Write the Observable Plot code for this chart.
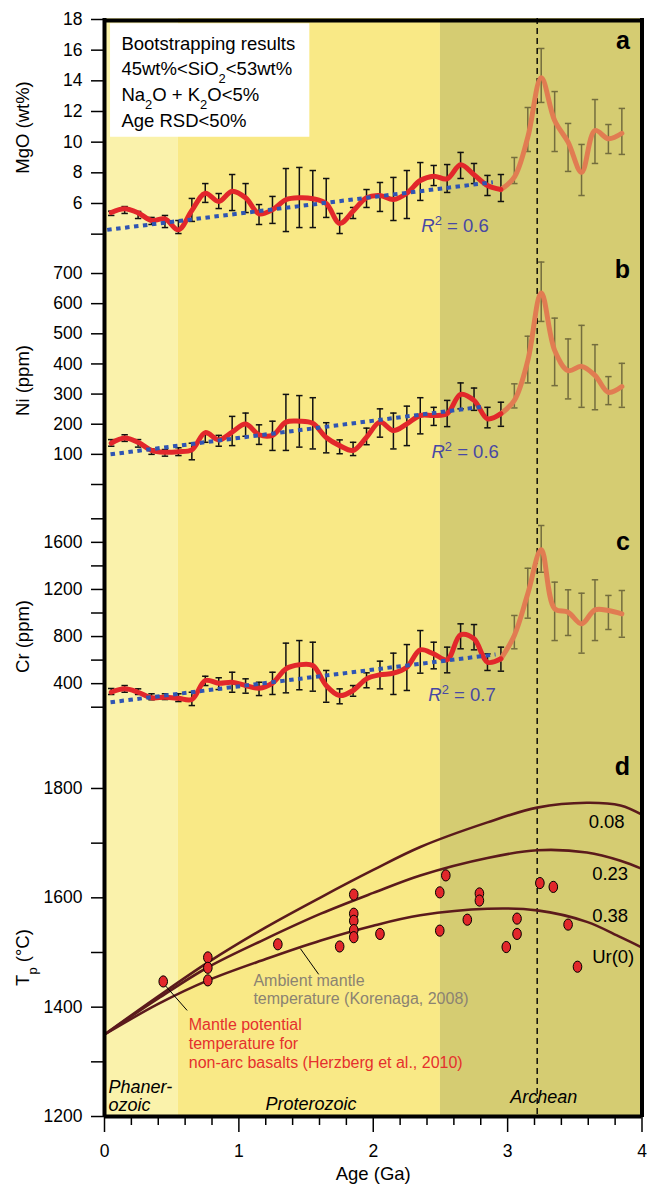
<!DOCTYPE html>
<html>
<head>
<meta charset="utf-8">
<script src="https://cdn.jsdelivr.net/npm/d3@7"></script>
<script src="https://cdn.jsdelivr.net/npm/@observablehq/plot@0.6"></script>
<style>
  html, body { margin: 0; padding: 0; background: #fff; }
  #chart { width: 647px; }
  #chart svg { display: block; }
</style>
</head>
<body>
<div id="chart"></div>
<script>
// ================= DATA =================
// Bootstrapped age bins (Ga)
const ages = [0.05,0.15,0.25,0.35,0.45,0.55,0.65,0.75,0.85,0.95,1.05,1.15,1.25,1.35,1.45,1.55,1.65,1.75,1.85,1.95,
              2.05,2.15,2.25,2.35,2.45,2.55,2.65,2.75,2.85,2.95,3.05,3.15,3.25,3.35,3.45,3.55,3.65,3.75,3.85];

// (a) MgO wt%
const mgoMean = [5.41,5.65,5.39,4.89,5.00,4.28,5.54,6.67,6.13,6.80,6.37,5.33,5.59,6.24,6.37,6.31,6.00,4.70,5.50,6.37,
                 6.52,6.26,6.67,7.50,7.78,7.61,8.52,7.87,7.17,6.91,7.72,10.32,14.20,11.41,10.00,8.04,10.76,10.22,10.58];
const mgoLow  = [5.22,5.35,5.02,4.63,4.43,4.04,4.83,6.07,5.67,5.54,5.41,4.63,4.70,4.17,4.43,4.43,5.09,4.04,5.02,5.74,
                 5.48,4.89,5.02,6.20,7.17,6.72,7.63,7.30,6.52,6.13,7.30,9.39,12.59,9.39,8.09,6.52,8.61,9.26,9.20];
const mgoHigh = [5.50,5.80,5.48,5.09,5.22,4.89,6.33,7.30,6.65,7.89,7.30,5.93,6.46,8.28,8.35,8.15,7.63,5.35,5.74,6.91,
                 7.37,7.70,8.15,8.67,8.48,8.54,9.33,8.61,7.83,7.89,9.00,12.26,16.11,13.30,11.22,9.85,12.78,11.15,12.20];

// (b) Ni ppm
const niMean = [137,154,140,113,107,109,115,172,148,174,201,165,163,207,210,203,156,129,113,157,
                207,179,201,229,229,235,299,279,218,235,279,411,635,445,378,392,362,306,325];
const niLow  = [127,143,124,100,94,96,82,140,127,129,160,133,113,113,124,118,105,102,96,132,
                157,118,129,168,196,192,251,246,188,193,254,337,541,328,284,256,248,265,256];
const niHigh = [149,165,149,118,116,122,137,166,163,226,237,198,210,299,295,288,205,148,140,187,
                251,237,260,288,256,279,337,320,256,273,334,492,738,552,483,528,464,358,402];

// (c) Cr ppm
const crMean = [327,356,327,280,285,276,265,427,404,412,384,361,404,526,560,554,384,299,342,441,
                475,489,540,687,653,603,815,781,582,611,809,1163,1537,1036,1007,908,1027,1021,993];
const crLow  = [308,327,308,263,265,248,214,384,350,327,319,299,308,322,348,336,242,229,293,365,
                356,308,342,489,526,492,696,687,512,506,696,956,1346,766,809,659,766,860,794];
const crHigh = [359,384,356,314,314,314,327,463,450,497,441,412,497,744,766,752,512,356,384,492,
                591,659,732,851,752,710,908,902,653,710,979,1380,1743,1262,1197,1168,1282,1149,1191];

// linear regressions (end points) and R²
const mgoFitAge = [0.02, 2.89], mgoFitValue = [4.28, 7.39];
const niFitAge  = [0.045, 2.83], niFitValue  = [100, 259];
const crFitAge  = [0.045, 2.91], crFitValue  = [242, 648];
const r2Values  = ["0.6", "0.6", "0.7"];

// (d) mantle potential temperature of non-arc basalts (Herzberg et al., 2010)
const tpAge   = [0.437,0.769,0.769,0.769,1.29,1.75,1.855,1.855,1.855,1.855,1.855,2.05,2.495,2.54,2.495,2.70,2.79,2.79,2.99,3.07,3.07,3.24,3.34,3.45,3.52];
const tpValue = [1447,1491,1472,1449,1515,1511,1606,1571,1558,1541,1528,1534,1610,1641,1540,1560,1608,1595,1510,1562,1534,1627,1620,1551,1474];

// ambient mantle temperature (Korenaga, 2008) for three Urey ratios
const urAge  = [0,0.4,0.77,1.2,1.61,2.0,2.35,2.85,3.22,3.59,3.84,4.0];
const ur008  = [1350,1420,1482,1546,1601,1651,1693,1738,1765,1774,1769,1752];
const ur023  = [1350,1416,1473,1525,1571,1609,1641,1673,1687,1683,1668,1653];
const ur038  = [1350,1406,1449,1488,1522,1549,1568,1580,1577,1556,1528,1509];
const urLabels = ["0.08", "0.23", "0.38", "Ur(0)"];

// eons
const eraStart = [0, 0.55, 2.5];
const eraEnd   = [0.55, 2.5, 4];
const eraNames = ["Phaner-\nozoic", "Proterozoic", "Archean"];
const redEndAge = 2.95;   // end of red (well constrained) part of curves
const dashAge   = 3.22;

// tick values
const xMajorTicks = [0, 1, 2, 3, 4];
const xMinorTicks = [0.2,0.4,0.6,0.8,1.2,1.4,1.6,1.8,2.2,2.4,2.6,2.8,3.2,3.4,3.6,3.8];
const mgoTicks = [6,8,10,12,14,16,18], mgoMinor = [4];
const niTicks  = [100,200,300,400,500,600,700], niMinor = [0];
const crTicks  = [400,800,1200,1600], crMinor = [200,600,1000,1400,1800];
const tpTicks  = [1200,1400,1600,1800], tpMinor = [1300,1500,1700];

const boxLines = "Bootstrapping results\n45wt%<SiO_{2}<53wt%\nNa_{2}O + K_{2}O<5%\nAge RSD<50%";

// ================= ANNOTATION ANCHORS (data units) =================
const boxRect   = [{x1: 0.045, x2: 1.528, y1: 10.32, y2: 17.72}];
const boxAnchor = [{x: 0.126, y: 14.05}];
const r2Anchor  = [{x: 2.358, y: 4.50}, {x: 2.433, y: 106}, {x: 2.41, y: 299}];
const urLabelAnchor = [{x: 3.603, y: 1738}, {x: 3.629, y: 1643}, {x: 3.629, y: 1566}, {x: 3.629, y: 1492}];
const eraLabelAnchor = [{x: 0.03, y: 1237}, {x: 1.198, y: 1222}, {x: 3.02, y: 1235}];
const ambientAnchor = [{x: 1.108, y: 1433}];
const herzAnchor    = [{x: 0.627, y: 1335}];
const leaders = [{x1: 1.458, y1: 1507, x2: 1.594, y2: 1460}, {x1: 0.44, y1: 1443, x2: 0.615, y2: 1394}];

// ================= STYLE / LAYOUT =================
const FONT = '"Liberation Sans", Arial, Helvetica, sans-serif';
const W = 647, ML = 104, MR = 5.5;
const C = {
  eras: ["#faf2ab", "#f9e986", "#d5cc72"],
  red: "#e2272b", orange: "#e17c52", bar: "#111111", barOld: "#746d3e",
  fit: "#2f55b3", r2: "#4848a4", curve: "#5b1a1c", grey: "#8b8372", note: "#e5302d"
};

const capSymbol = {draw(ctx) { ctx.moveTo(-3.2, 0); ctx.lineTo(3.2, 0); }};
const ellipseSymbol = {draw(ctx) {
  const rx = 4.3, ry = 5.6, k = 0.5523;
  ctx.moveTo(rx, 0);
  ctx.bezierCurveTo(rx, k * ry, k * rx, ry, 0, ry);
  ctx.bezierCurveTo(-k * rx, ry, -rx, k * ry, -rx, 0);
  ctx.bezierCurveTo(-rx, -k * ry, -k * rx, -ry, 0, -ry);
  ctx.bezierCurveTo(k * rx, -ry, rx, -k * ry, rx, 0);
  ctx.closePath();
}};

const eras = eraStart.map((s, i) => ({start: s, end: eraEnd[i], name: eraNames[i]}));

function rowsOf(mean, lo, hi) {
  return ages.map((a, i) => ({age: a, mean: mean[i], lo: lo[i], hi: hi[i]}));
}
function fitRows(a, v) { return a.map((x, i) => ({age: x, v: v[i]})); }

function background(domain, dashOffset) {
  return [
    Plot.rect(eras, {x1: "start", x2: "end", y1: () => domain[0], y2: () => domain[1], fill: (d, i) => C.eras[i]}),
    Plot.ruleX([dashAge], {stroke: "#000", strokeWidth: 1.4, strokeDasharray: "6,4", strokeDashoffset: dashOffset,
                           strokeLinecap: "butt"})
  ];
}

function frame() {
  return [Plot.ruleX([0, 4], {stroke: "#000", strokeWidth: 4})];
}

function yAxis(ticks, minor) {
  return [
    Plot.axisY({ticks, anchor: "left", tickSize: 13, tickPadding: 9, fontSize: 17.5, strokeWidth: 1.5,
                label: null, tickFormat: d => String(d)}),
    Plot.axisY({ticks: minor, anchor: "left", tickSize: 13, strokeWidth: 1.5, label: null, tickFormat: () => ""})
  ];
}

function yTitle(text, dy) {
  return Plot.text([text], {frameAnchor: "left", rotate: -90, dx: -81.5, dy, textAnchor: "middle",
                            lineAnchor: "middle", fontSize: 18.5});
}

function panelLetter(letter, dy) {
  return Plot.text([letter], {frameAnchor: "top-right", dx: -12, dy, textAnchor: "end", lineAnchor: "middle",
                              fontSize: 25, fontWeight: "bold"});
}

function seriesMarks(rows, fit, r2Idx) {
  const young = rows.filter(d => d.age <= redEndAge + 1e-9);
  const old = rows.filter(d => d.age >= redEndAge - 1e-9);
  const barColor = d => (d.age <= redEndAge + 1e-9 ? C.bar : C.barOld);
  return [
    Plot.ruleX(rows, {x: "age", y1: "lo", y2: "hi", stroke: barColor, strokeWidth: 1.5}),
    Plot.dot(rows, {x: "age", y: "hi", symbol: capSymbol, stroke: barColor, strokeWidth: 1.5, fill: "none"}),
    Plot.dot(rows, {x: "age", y: "lo", symbol: capSymbol, stroke: barColor, strokeWidth: 1.5, fill: "none"}),
    Plot.line(old, {x: "age", y: "mean", stroke: C.orange, strokeWidth: 5, curve: "catmull-rom"}),
    Plot.line(young, {x: "age", y: "mean", stroke: C.red, strokeWidth: 5, curve: "catmull-rom"}),
    Plot.line(fit, {x: "age", y: "v", stroke: C.fit, strokeWidth: 4, strokeDasharray: "4.5,4.5",
                    strokeLinecap: "butt"}),
    Plot.text([r2Anchor[r2Idx]], {x: "x", y: "y", text: () => "*{R}^{2} = " + r2Values[r2Idx],
                                   fill: C.r2, fontSize: 18.5, textAnchor: "start", lineAnchor: "middle"})
  ];
}

function panel(cfg, marks) {
  const svg = Plot.plot({
    width: W, height: cfg.height,
    marginLeft: ML, marginRight: MR, marginTop: cfg.marginTop || 0, marginBottom: cfg.marginBottom || 0,
    x: {domain: [0, 4], axis: null},
    y: {domain: cfg.domain, axis: null},
    color: {type: "identity"},
    style: {fontFamily: FONT, fontSize: "17.5px", background: "transparent", overflow: "visible", color: "#000"},
    marks
  });
  document.getElementById("chart").appendChild(svg);
}

// ---------- panel a : MgO ----------
const domA = [2.934, 18.065];
panel({height: 250, marginTop: 18, domain: domA}, [
  ...background(domA, 0),
  Plot.rect(boxRect, {x1: "x1", x2: "x2", y1: "y1", y2: "y2", fill: "#fff"}),
  Plot.text(boxAnchor, {x: "x", y: "y", text: () => boxLines, textAnchor: "start", lineAnchor: "middle",
                        lineHeight: 1.4, fontSize: 18.5}),
  ...seriesMarks(rowsOf(mgoMean, mgoLow, mgoHigh), fitRows(mgoFitAge, mgoFitValue), 0),
  ...yAxis(mgoTicks, mgoMinor),
  yTitle("MgO (wt%)", -7),
  panelLetter("a", 22.5),
  Plot.ruleY([domA[1]], {stroke: "#000", strokeWidth: 4, dy: 2}),
  ...frame()
]);

// ---------- panel b : Ni ----------
const domB = [-53.1, 776.4];
panel({height: 250, domain: domB}, [
  ...background(domB, 2),
  ...seriesMarks(rowsOf(niMean, niLow, niHigh), fitRows(niFitAge, niFitValue), 1),
  ...yAxis(niTicks, niMinor),
  yTitle("Ni (ppm)", 5),
  panelLetter("b", 19),
  ...frame()
]);

// ---------- panel c : Cr ----------
const domC = [-40.3, 1955.4];
panel({height: 235, domain: domC}, [
  ...background(domC, 2),
  ...seriesMarks(rowsOf(crMean, crLow, crHigh), fitRows(crFitAge, crFitValue), 2),
  ...yAxis(crTicks, crMinor),
  yTitle("Cr (ppm)", 18.5),
  panelLetter("c", 41.5),
  ...frame()
]);

// ---------- panel d : Tp ----------
const domD = [1198.2, 1896.9];
const urSeries = [ur008, ur023, ur038];
const urRows = urSeries.flatMap((s, k) => urAge.map((a, i) => ({age: a, tp: s[i], ur: urLabels[k]})));
const tpRows = tpAge.map((a, i) => ({age: a, tp: tpValue[i]}));
panel({height: 450, marginBottom: 68, domain: domD}, [
  ...background(domD, 7),
  Plot.line(urRows, {x: "age", y: "tp", z: "ur", stroke: C.curve, strokeWidth: 2.6, curve: "catmull-rom"}),
  Plot.link(leaders, {x1: "x1", y1: "y1", x2: "x2", y2: "y2", stroke: "#000", strokeWidth: 1}),
  Plot.dot(tpRows, {x: "age", y: "tp", symbol: ellipseSymbol, fill: C.red, stroke: "#000", strokeWidth: 1}),
  Plot.text(urLabelAnchor, {x: "x", y: "y", text: (d, i) => urLabels[i], textAnchor: "start",
                            lineAnchor: "middle", fontSize: 18.5}),
  Plot.text(ambientAnchor, {x: "x", y: "y", text: () => "Ambient mantle\ntemperature (Korenaga, 2008)",
                            fill: C.grey, textAnchor: "start", lineAnchor: "middle", lineHeight: 1.15, fontSize: 16}),
  Plot.text(herzAnchor, {x: "x", y: "y",
                         text: () => "Mantle potential\ntemperature for\nnon-arc basalts (Herzberg et al., 2010)",
                         fill: C.note, textAnchor: "start", lineAnchor: "middle", lineHeight: 1.19, fontSize: 16}),
  Plot.text(eraLabelAnchor, {x: "x", y: "y", text: (d, i) => eras[i].name, fontStyle: "italic",
                             textAnchor: "start", lineAnchor: "middle", lineHeight: 1.0, fontSize: 18}),
  ...yAxis(tpTicks, tpMinor),
  Plot.axisX({ticks: xMajorTicks, anchor: "bottom", tickSize: 15, tickPadding: 12, fontSize: 17.5,
              strokeWidth: 1.5, label: null, tickFormat: d => String(d)}),
  Plot.axisX({ticks: xMinorTicks, anchor: "bottom", tickSize: 8, strokeWidth: 1.5, label: null, tickFormat: () => ""}),
  Plot.text(["Age (Ga)"], {frameAnchor: "bottom", dy: 57, textAnchor: "middle", lineAnchor: "middle", fontSize: 18.5}),
  yTitle("T_{p} (°C)", 31),
  panelLetter("d", 31),
  Plot.ruleY([1200], {stroke: "#000", strokeWidth: 4}),
  ...frame()
]);

// ---------- rich text: sub/superscripts and italics ----------
(function richify(root) {
  const NS = "http://www.w3.org/2000/svg";
  root.querySelectorAll("text, tspan").forEach(el => {
    if (el.children.length) return;
    const t = el.textContent;
    if (!/[_^*]\{/.test(t)) return;
    el.textContent = "";
    const re = /([_^*])\{([^}]*)\}|([^_^*]+|[_^*])/g;
    let m;
    while ((m = re.exec(t))) {
      const ts = document.createElementNS(NS, "tspan");
      if (m[1]) {
        ts.textContent = m[2];
        if (m[1] === "_") { ts.setAttribute("baseline-shift", "sub"); ts.setAttribute("font-size", "70%"); }
        else if (m[1] === "^") { ts.setAttribute("baseline-shift", "super"); ts.setAttribute("font-size", "70%"); }
        else ts.setAttribute("font-style", "italic");
      } else ts.textContent = m[3];
      el.appendChild(ts);
    }
  });
})(document.getElementById("chart"));
</script>
</body>
</html>
